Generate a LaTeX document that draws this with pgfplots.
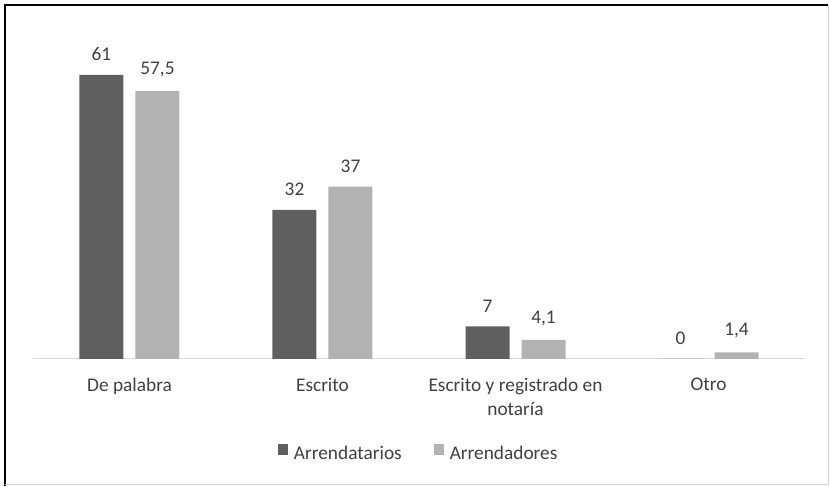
\documentclass[border=0pt]{standalone}
\usepackage{pgfplots}
\pgfplotsset{compat=1.18}
\usepackage{fontspec}
\setmainfont{Carlito}
\definecolor{darkbar}{HTML}{5F5F5F}
\definecolor{lightbar}{HTML}{B2B2B2}
\definecolor{txt}{HTML}{404040}
\definecolor{baseline}{HTML}{D9D9D9}
\begin{document}
\begin{tikzpicture}
\begin{axis}[
  name=ax,
  scale only axis, width=579pt, height=244.5pt,
  xmin=-0.5, xmax=3.5, ymin=0, ymax=70,
  clip=false,
  axis x line=bottom, axis y line=none,
  x axis line style={-, draw=baseline, line width=0.75pt},
  ytick=\empty,
  xtick={0,1,2,3},
  xticklabels={De palabra, Escrito, {Escrito y registrado en\\notaría}, Otro},
  xticklabel style={align=center, font=\fontsize{14.5}{17.5}\selectfont, text=txt, yshift=-11pt},
  major tick length=0pt,
  ybar, bar width=33pt,
  nodes near coords,
  point meta=explicit symbolic,
  nodes near coords style={font=\fontsize{14.5}{17.5}\selectfont, text=txt, yshift=7pt},
  legend style={at={(0.5,-0.292)}, anchor=center, draw=none, fill=none,
    legend columns=2, font=\fontsize{14.5}{17.5}\selectfont, text=txt,
    /tikz/every even column/.append style={column sep=22pt}},
  legend image code/.code={\fill[#1] (0pt,-0.5pt) rectangle (7.5pt,7.5pt); \path (0pt,0pt) -- (10pt,0pt);},
]
\addplot[fill=darkbar, draw=none, bar shift=-21pt] table[meta=l] {
x y l
0 61 61
1 32 32
2 7 7
3 0 0
};
\addplot[fill=lightbar, draw=none, bar shift=21pt] table[meta=l] {
x y l
0 57.5 57,5
1 37 37
2 4.1 4,1
3 1.4 1,4
};
\legend{Arrendatarios, Arrendadores}
\coordinate (bl) at (rel axis cs:-0.042746,-0.392638);
\coordinate (tr) at (rel axis cs:1.032383,1.101227);
\coordinate (fl) at (rel axis cs:-0.03627,-0.3865);
\coordinate (ft) at (rel axis cs:1.02979,1.08589);
\end{axis}
\pgfresetboundingbox
\useasboundingbox (bl) rectangle (tr);
\draw[black, line width=1.8pt] (fl |- bl) ++(0,0.9pt) -- (fl |- ft) -- (ft);
\draw[gray!35, line width=0.75pt] (ft) -- (ft |- fl) -- (fl);
\end{tikzpicture}
\end{document}
